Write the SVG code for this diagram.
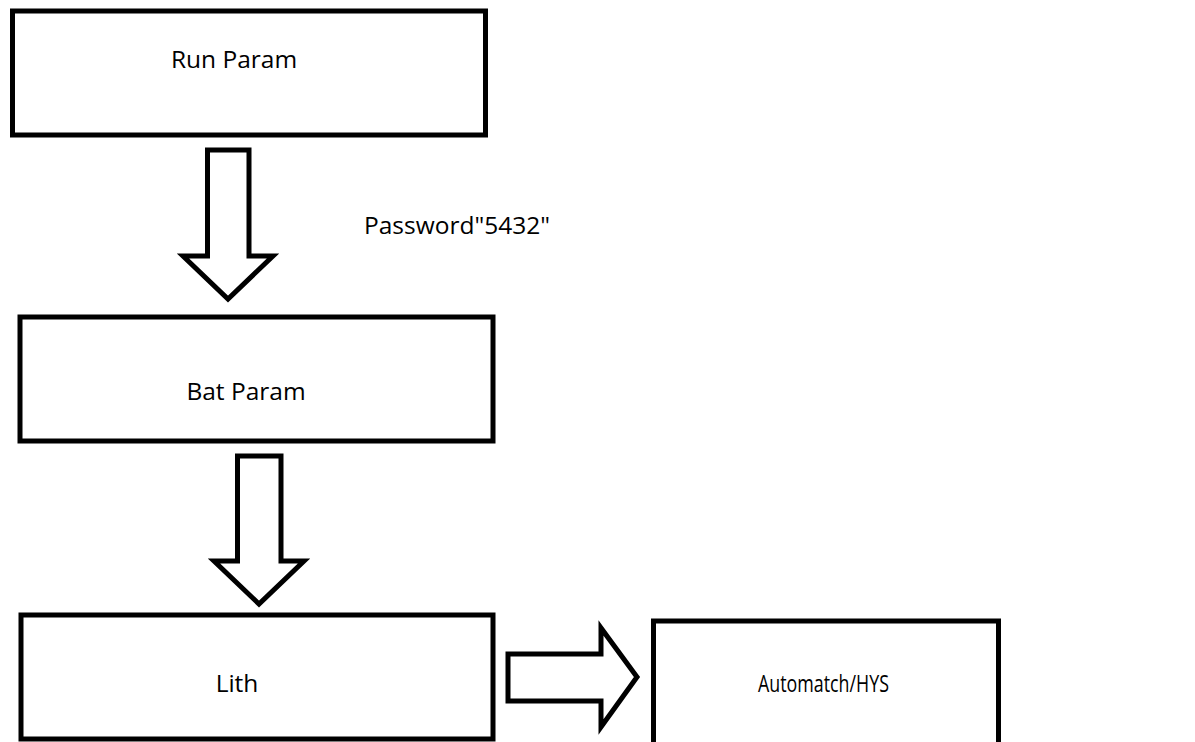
<svg xmlns="http://www.w3.org/2000/svg" width="1195" height="742" viewBox="0 0 1195 742">
<style>
.box{fill:#fff;stroke:#000;stroke-width:5}
.arr{fill:#fff;stroke:#000;stroke-width:5;stroke-linejoin:miter}
.lbl{font-family:"Open Sans","Liberation Sans",sans-serif;font-size:24.5px;fill:#000;text-anchor:middle}
</style>
<rect width="1195" height="742" fill="#fff"/>
<g id="connectors">
<path class="arr" d="M207.5,150 L249,150 L249,256 L273,256 L228,299 L183,256 L207.5,256 Z"/>
<path class="arr" d="M237.5,456 L281,456 L281,561 L304,561 L259,604 L214,561 L237.5,561 Z"/>
<path class="arr" d="M508,654 L601,654 L601,628 L637,677 L601,727 L601,701 L508,701 Z"/>
</g>
<g id="n1"><rect class="box" x="12.5" y="11" width="473" height="124"/><text class="lbl" x="234" y="68">Run Param</text></g>
<text class="lbl" x="457" y="234">Password"5432"</text>
<g id="n2"><rect class="box" x="20" y="317" width="473" height="124"/><text class="lbl" x="246" y="400">Bat Param</text></g>
<g id="n3"><rect class="box" x="21" y="615" width="472" height="124"/><text class="lbl" x="237" y="692">Lith</text></g>
<g id="n4"><rect class="box" x="653.5" y="621" width="345" height="130"/><text class="lbl" x="823.5" y="692" textLength="131" lengthAdjust="spacingAndGlyphs">Automatch/HYS</text></g>
</svg>
